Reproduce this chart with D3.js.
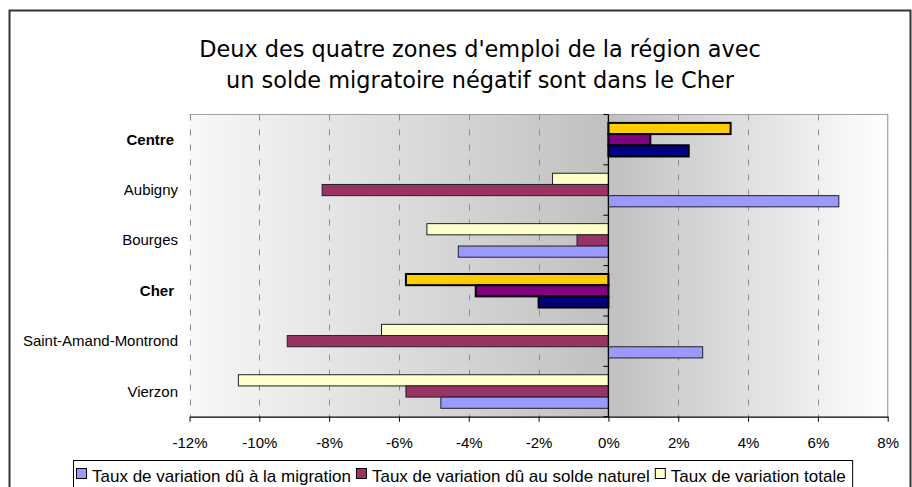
<!DOCTYPE html>
<html>
<head>
<meta charset="utf-8">
<script src="https://cdn.jsdelivr.net/npm/d3@7"></script>
<style>
  body { margin: 0; background: #fff; }
  svg { display: block; }
</style>
</head>
<body>
<svg id="chart" width="912" height="487"></svg>
<script>
// values (in %)
const categories = ["Centre", "Aubigny", "Bourges", "Cher", "Saint-Amand-Montrond", "Vierzon"];
const highlighted = ["Centre", "Cher"];
const migration = [2.3, 6.6, -4.3, -2.0, 2.7, -4.8];
const naturel = [1.2, -8.2, -0.9, -3.8, -9.2, -5.8];
const totale = [3.5, -1.6, -5.2, -5.8, -6.5, -10.6];
const seriesNames = ["Taux de variation dû à la migration", "Taux de variation dû au solde naturel", "Taux de variation totale"];
const tickValues = [-12, -10, -8, -6, -4, -2, 0, 2, 4, 6, 8];
const tickLabels = ["-12%", "-10%", "-8%", "-6%", "-4%", "-2%", "0%", "2%", "4%", "6%", "8%"];
const titleLines = ["Deux des quatre zones d'emploi de la région avec", "un solde migratoire négatif sont dans le Cher"];

(function() {
    const svg = d3.select("#chart");
    const plot = {left: 189.5, right: 887.7, top: 114.5, bottom: 416.7};

    const normalColors = {migration: "#9999ff", naturel: "#993366", totale: "#ffffcc"};
    const strongColors = {migration: "#000080", naturel: "#800080", totale: "#ffcc00"};

    // outer frame
    svg.append("rect")
        .attr("x", 9.5).attr("y", 10.5)
        .attr("width", 901).attr("height", 520)
        .attr("fill", "none")
        .attr("stroke", "#333")
        .attr("stroke-width", 2);

    // title
    svg.append("g").selectAll("text")
        .data(titleLines)
        .join("text")
        .attr("x", 480)
        .attr("y", (d, i) => 56.7 + i * 31.6)
        .attr("text-anchor", "middle")
        .style("font-family", "'DejaVu Sans', Verdana, sans-serif")
        .style("font-size", "22.4px")
        .attr("fill", "#000")
        .text(d => d);

    const x = d3.scaleLinear()
        .domain([tickValues[0], tickValues[tickValues.length - 1]])
        .range([plot.left, plot.right]);

    const y = d3.scaleBand()
        .domain(categories)
        .range([plot.top, plot.bottom]);

    const keys = ["totale", "naturel", "migration"];
    const y2 = d3.scaleBand()
        .domain(keys)
        .range([0, y.bandwidth()])
        .paddingInner(0)
        .paddingOuter(0.75);

    // background gradient
    const grad = svg.append("defs").append("linearGradient")
        .attr("id", "bg")
        .attr("x1", "0").attr("x2", "1").attr("y1", "0").attr("y2", "0");
    const zeroFrac = (x(0) - plot.left) / (plot.right - plot.left);
    grad.append("stop").attr("offset", 0).attr("stop-color", "#f8f8f8");
    grad.append("stop").attr("offset", zeroFrac).attr("stop-color", "#c0c0c0");
    grad.append("stop").attr("offset", 1).attr("stop-color", "#ffffff");

    svg.append("rect")
        .attr("x", plot.left).attr("y", plot.top)
        .attr("width", plot.right - plot.left)
        .attr("height", plot.bottom - plot.top)
        .attr("fill", "url(#bg)");

    // plot border (top and right)
    svg.append("path")
        .attr("d", `M${plot.left},${plot.top}H${plot.right}V${plot.bottom}`)
        .attr("fill", "none")
        .attr("stroke", "#a0a0a0")
        .attr("stroke-width", 1.2);

    // dashed gridlines
    svg.append("g").selectAll("line")
        .data(tickValues.filter(v => v !== 0 && v !== 8))
        .join("line")
        .attr("x1", d => Math.round(x(d)) + 0.5)
        .attr("x2", d => Math.round(x(d)) + 0.5)
        .attr("y1", plot.top)
        .attr("y2", plot.bottom)
        .attr("stroke", "#8c8c8c")
        .attr("stroke-dasharray", "6,9");

    // bars
    const rows = categories.map((c, i) => ({
        cat: c,
        values: {migration: migration[i], naturel: naturel[i], totale: totale[i]}
    }));

    const groups = svg.append("g").selectAll("g")
        .data(rows)
        .join("g")
        .attr("transform", d => `translate(0,${y(d.cat)})`);

    groups.selectAll("rect")
        .data(d => keys.map(k => ({key: k, v: d.values[k], strong: highlighted.includes(d.cat)})))
        .join("rect")
        .attr("x", d => x(Math.min(0, d.v)))
        .attr("width", d => Math.abs(x(d.v) - x(0)))
        .attr("y", d => y2(d.key))
        .attr("height", y2.bandwidth())
        .attr("fill", d => (d.strong ? strongColors : normalColors)[d.key])
        .attr("stroke", d => d.strong ? "#000" : "#222")
        .attr("stroke-width", d => d.strong ? 2 : 1);

    // vertical axis at zero with boundary ticks
    const x0 = x(0);
    svg.append("line")
        .attr("x1", x0).attr("x2", x0)
        .attr("y1", plot.top).attr("y2", plot.bottom)
        .attr("stroke", "#000")
        .attr("stroke-width", 1.3);

    svg.append("g").selectAll("line")
        .data(categories.map(c => y(c)).concat([plot.bottom]))
        .join("line")
        .attr("x1", x0 - 5).attr("x2", x0)
        .attr("y1", d => d).attr("y2", d => d)
        .attr("stroke", "#000");

    // category labels
    svg.append("g").selectAll("text")
        .data(categories)
        .join("text")
        .attr("x", d => highlighted.includes(d) ? 174 : 178)
        .attr("y", d => y(d) + y.bandwidth() / 2 + 5)
        .attr("text-anchor", "end")
        .style("font-family", "'Liberation Sans', Arial, sans-serif")
        .style("font-size", "15px")
        .style("font-weight", d => highlighted.includes(d) ? "bold" : "normal")
        .text(d => d);

    // horizontal axis
    const xAxis = d3.axisBottom(x)
        .tickValues(tickValues)
        .tickFormat((d, i) => tickLabels[i])
        .tickSizeInner(5)
        .tickSizeOuter(0)
        .tickPadding(16);

    const gx = svg.append("g")
        .attr("transform", `translate(0,${plot.bottom})`)
        .call(xAxis);
    gx.select(".domain").attr("stroke", "#000").attr("stroke-width", 1.3);
    gx.selectAll(".tick line").attr("stroke", "#000");
    gx.selectAll(".tick text")
        .style("font-family", "'Liberation Sans', Arial, sans-serif")
        .style("font-size", "15px")
        .attr("fill", "#000");

    // legend
    const legend = svg.append("g");
    const legendBox = legend.append("rect")
        .attr("x", 73.5).attr("y", 460.5)
        .attr("height", 60)
        .attr("fill", "#fff")
        .attr("stroke", "#000");

    const legendColors = [normalColors.migration, normalColors.naturel, normalColors.totale];
    let lx = 76;
    seriesNames.forEach((name, i) => {
        legend.append("rect")
            .attr("x", lx + 0.5).attr("y", 468.5)
            .attr("width", 10).attr("height", 10)
            .attr("fill", legendColors[i])
            .attr("stroke", "#000");
        const t = legend.append("text")
            .attr("x", lx + 16)
            .attr("y", 481.5)
            .style("font-family", "'Liberation Sans', Arial, sans-serif")
            .style("font-size", "17px")
            .text(name);
        lx = lx + 16 + t.node().getComputedTextLength() + 5;
    });
    legendBox.attr("width", lx - 73.5 + 2);
})();
</script>
</body>
</html>
